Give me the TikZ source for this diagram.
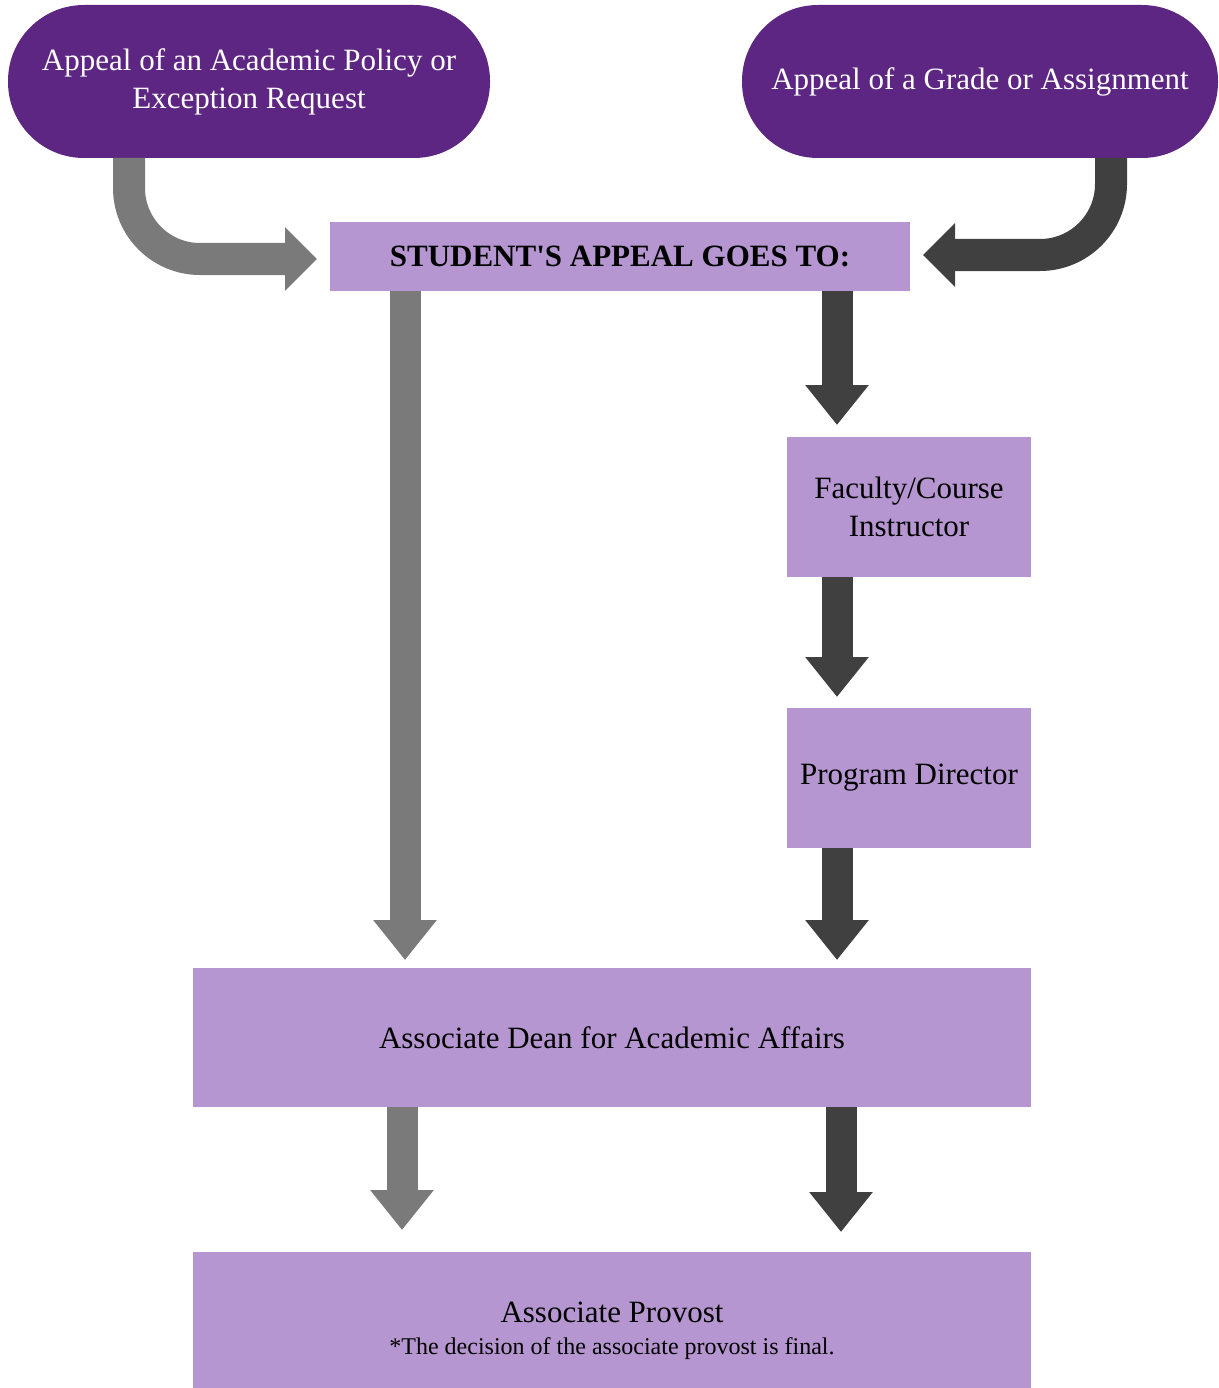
\documentclass[tikz,border=0pt]{standalone}
\usepackage{fontspec}
\setmainfont{Liberation Serif}
\usetikzlibrary{arrows.meta}

\definecolor{deeppurple}{HTML}{5E2683}
\definecolor{lavender}{HTML}{B696D0}
\definecolor{midgrey}{HTML}{7A7A7A}
\definecolor{darkgrey}{HTML}{404040}

\begin{document}
\begin{tikzpicture}[x=1pt,y=-1pt,
  pill/.style={draw=none, fill=deeppurple, rectangle, rounded corners=76pt,
    inner sep=0pt, outer sep=0pt, minimum height=153pt, text=white,
    align=center, font=\fontsize{31}{38}\selectfont},
  stepbox/.style={draw=none, fill=lavender, rectangle, inner sep=0pt,
    outer sep=0pt, align=center, text=black, font=\fontsize{31}{38}\selectfont},
  flow/.style={line width=31pt, -{Triangle[width=61pt,length=40pt]}},
  curvedflow/.style={line width=32pt, rounded corners=71pt,
    -{Triangle[width=62pt,length=32pt]}},
  policy/.style={draw=midgrey},
  grade/.style={draw=darkgrey}
]
\clip (0,0) rectangle (1218,1388);
\fill[white] (0,0) rectangle (1218,1388);

% column positions of the vertical connectors
\coordinate (colA) at (405,0);
\coordinate (colB) at (837,0);
\coordinate (colC) at (402,0);
\coordinate (colD) at (841,0);
\coordinate (colE) at (129,0);
\coordinate (colF) at (1111,0);

% entry points
\node[pill, minimum width=482pt] (policyreq) at (249,81.5)
  {Appeal of an Academic Policy or\\Exception Request};
\node[pill, minimum width=476pt] (gradereq) at (980,81.5)
  {Appeal of a Grade or Assignment};

% routing boxes
\node[stepbox, minimum width=580pt, minimum height=69pt] (student) at (620,256.5)
  {\bfseries STUDENT\textquotesingle S APPEAL GOES TO:};
\node[stepbox, minimum width=244pt, minimum height=140pt] (faculty) at (909,507)
  {Faculty/Course\\Instructor};
\node[stepbox, minimum width=244pt, minimum height=140pt] (program) at (909,778)
  {Program Director};
\node[stepbox, minimum width=838pt, minimum height=139pt] (dean) at (612,1037.5)
  {Associate Dean for Academic Affairs};
\node[stepbox, minimum width=838pt, minimum height=140pt] (provost) at (612,1322)
  {\rule{0pt}{38pt}Associate Provost\\[-6pt]{\fontsize{24}{30}\selectfont *The decision of the associate provost is final.}};

% curved entry arrows
\draw[curvedflow, policy, shorten >=13pt] (policyreq.south -| colE)
  |- ([yshift=-2.5pt]student.west);
\draw[curvedflow, grade, shorten >=13pt] (gradereq.south -| colF)
  |- ([yshift=1.5pt]student.east);

% policy route
\draw[flow, policy, shorten >=8pt] (student.south -| colA) -- (dean.north -| colA);
\draw[flow, policy, shorten >=22pt] (dean.south -| colC) -- (provost.north -| colC);

% grade route
\draw[flow, grade, shorten >=12pt] (student.south -| colB) -- (faculty.north -| colB);
\draw[flow, grade, shorten >=11pt] (faculty.south -| colB) -- (program.north -| colB);
\draw[flow, grade, shorten >=8pt] (program.south -| colB) -- (dean.north -| colB);
\draw[flow, grade, shorten >=20pt] (dean.south -| colD) -- (provost.north -| colD);
\end{tikzpicture}
\end{document}
